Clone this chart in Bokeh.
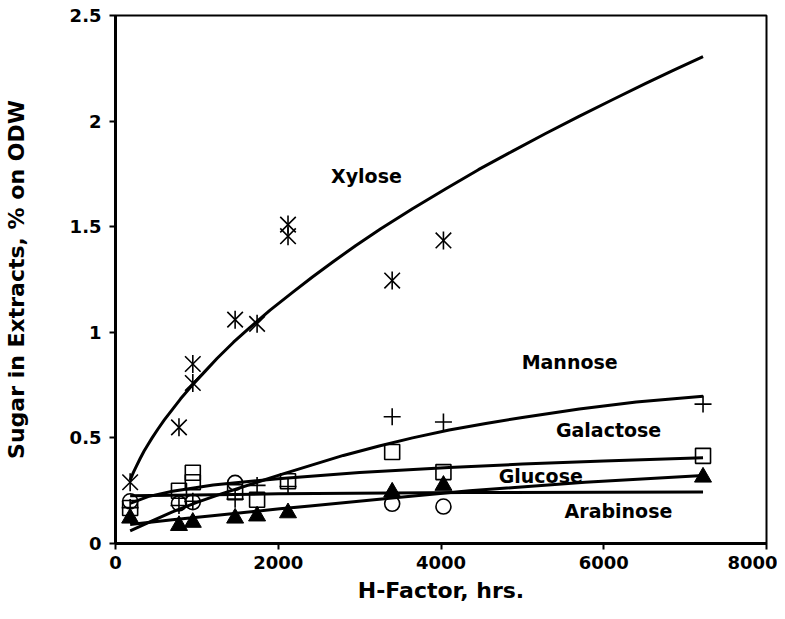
import math
from bokeh.plotting import figure
from bokeh.models import Range1d, Label, FixedTicker
from bokeh.embed import file_html
from bokeh.resources import INLINE

# ---- data ----
x_ticks = [0, 2000, 4000, 6000, 8000]
y_ticks = [0, 0.5, 1, 1.5, 2, 2.5]
y_tick_labels = {0: "0", 0.5: "0.5", 1: "1", 1.5: "1.5", 2: "2", 2.5: "2.5"}

xylose_h = [180, 780, 950, 950, 1470, 1740, 2120, 2120, 3400, 4030]
xylose = [0.29, 0.55, 0.85, 0.76, 1.06, 1.04, 1.51, 1.455, 1.245, 1.435]

mannose_h = [180, 780, 950, 1470, 1740, 2120, 3400, 4030, 7220]
mannose = [0.17, 0.18, 0.20, 0.21, 0.275, 0.27, 0.60, 0.575, 0.66]

galactose_h = [180, 780, 950, 950, 1470, 1740, 2120, 3400, 4030, 7220]
galactose = [0.168, 0.25, 0.335, 0.29, 0.243, 0.207, 0.295, 0.433, 0.338, 0.415]

glucose_h = [180, 780, 950, 1470, 1740, 2120, 3400, 4030, 7220]
glucose = [0.12, 0.085, 0.10, 0.12, 0.13, 0.145, 0.243, 0.275, 0.314]

arabinose_h = [180, 780, 950, 1470, 3400, 4030]
arabinose = [0.20, 0.19, 0.196, 0.287, 0.188, 0.175]

# trend curves
xylose_fit_h = [180, 220, 260, 300, 350, 400, 450, 520, 600, 700, 800, 960, 1100, 1250, 1450, 1650,
                1900, 2180, 2420, 2670, 2950, 3260, 3650, 4060, 4460, 4880, 5280, 5690, 6100, 6510, 6860, 7220]
xylose_fit = [0.30, 0.337, 0.369, 0.40, 0.437, 0.469, 0.50, 0.541, 0.585, 0.635, 0.685, 0.757, 0.815, 0.877,
              0.953, 1.022, 1.105, 1.19, 1.262, 1.333, 1.41, 1.49, 1.585, 1.68, 1.77, 1.858, 1.94, 2.021,
              2.10, 2.177, 2.241, 2.305]

mannose_fit_h = [180, 450, 700, 1000, 1300, 1740, 2020, 2400, 2800, 3240, 3650, 4100, 4550, 5000, 5700, 6400, 7220]
mannose_fit = [0.06, 0.107, 0.15, 0.195, 0.235, 0.29, 0.325, 0.37, 0.417, 0.462, 0.50, 0.537, 0.568,
               0.597, 0.637, 0.67, 0.697]

galactose_fit_h = [180, 400, 700, 1200, 2000, 3000, 4100, 5000, 6000, 7220]
galactose_fit = [0.19, 0.222, 0.247, 0.277, 0.307, 0.336, 0.36, 0.376, 0.391, 0.406]

glucose_fit_h = [180, 700, 1220, 2020, 2390, 3400, 4350, 5770, 7220]
glucose_fit = [0.09, 0.112, 0.133, 0.164, 0.178, 0.215, 0.25, 0.29, 0.322]

arabinose_fit_h = [180, 2000, 4300, 7220]
arabinose_fit = [0.226, 0.235, 0.241, 0.244]

labels = ["Xylose", "Mannose", "Galactose", "Glucose", "Arabinose"]
label_h = [3084, 5581, 6059, 5226, 6181]
label_y = [1.739, 0.858, 0.536, 0.318, 0.156]

FONT = "DejaVu Sans"

p = figure(width=777, height=611, output_backend="svg", toolbar_location=None,
           x_range=Range1d(0, 8000), y_range=Range1d(0, 2.5),
           min_border_left=115, min_border_right=11, min_border_top=15, min_border_bottom=68)
p.background_fill_color = "white"
p.border_fill_color = "white"
p.xgrid.visible = False
p.ygrid.visible = False
p.outline_line_color = "black"
p.outline_line_width = 2

for ax in (p.xaxis[0], p.yaxis[0]):
    ax.axis_line_width = 3
    ax.axis_line_color = "black"
    ax.major_tick_in = 0
    ax.major_tick_out = 6
    ax.major_tick_line_width = 2
    ax.minor_tick_line_color = None
    ax.major_label_text_font = FONT
    ax.major_label_text_font_style = "bold"
    ax.major_label_text_font_size = "18px"
    ax.major_label_text_color = "black"
    ax.axis_label_text_font = FONT
    ax.axis_label_text_font_style = "bold"
    ax.axis_label_text_font_size = "22px"
    ax.axis_label_text_color = "black"

p.xaxis.ticker = FixedTicker(ticks=x_ticks)
p.yaxis.ticker = FixedTicker(ticks=y_ticks)
p.yaxis.major_label_overrides = y_tick_labels
p.xaxis.major_label_standoff = 6
p.yaxis.major_label_standoff = 8
p.xaxis.axis_label = "H-Factor, hrs."
p.yaxis.axis_label = "Sugar in Extracts, % on ODW"
p.xaxis.axis_label_standoff = 6
p.yaxis.axis_label_standoff = 38

# trend lines
for hx, yy in [(xylose_fit_h, xylose_fit), (mannose_fit_h, mannose_fit),
               (galactose_fit_h, galactose_fit), (glucose_fit_h, glucose_fit),
               (arabinose_fit_h, arabinose_fit)]:
    p.line(hx, yy, line_color="black", line_width=3, line_join="round")

# markers
p.scatter(xylose_h, xylose, marker="x", size=22, line_color="black", line_width=1.6)
p.scatter(xylose_h, xylose, marker="dash", angle=math.pi / 2, size=18, line_color="black", line_width=1.6)
p.scatter(mannose_h, mannose, marker="cross", size=17, line_color="black", line_width=1.6)
p.scatter(galactose_h, galactose, marker="square", size=15, line_color="black", line_width=1.6, fill_alpha=0)
p.scatter(arabinose_h, arabinose, marker="circle", size=15, line_color="black", line_width=1.6, fill_alpha=0)
p.scatter(glucose_h, glucose, marker="triangle", size=17, line_color="black", fill_color="black")

for t, hx, yy in zip(labels, label_h, label_y):
    p.add_layout(Label(x=hx, y=yy, text=t, text_align="center", text_baseline="middle",
                       text_font=FONT, text_font_style="bold", text_font_size="19px",
                       text_color="black"))

open("out.html", "w").write(file_html(p, INLINE))
